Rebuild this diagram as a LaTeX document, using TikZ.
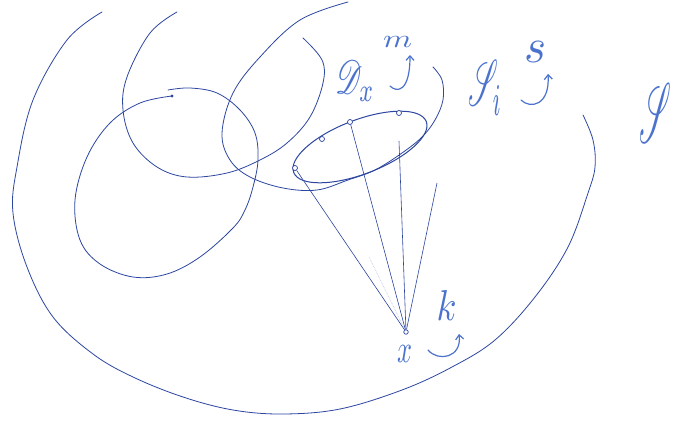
\documentclass[tikz,border=0pt]{standalone}
\usepackage{mathrsfs}
\usetikzlibrary{arrows.meta}
\definecolor{ink}{RGB}{45, 70, 160}
\definecolor{inklight}{RGB}{75, 115, 205}
\newcommand{\inkbox}[3]{\resizebox*{#1pt}{#2pt}{#3}}
\tikzset{
  pen/.style={draw=ink, line width=0.8pt, line cap=round},
  ray/.style={draw=ink, line width=0.6pt},
  hole/.style={circle, draw=ink, fill=white, line width=0.7pt, inner sep=0pt, minimum size=5pt},
  hook/.style={draw=inklight, line width=1.2pt, line cap=round, -{Straight Barb[length=4.5pt, width=8pt]}},
  handtext/.style={text=inklight, inner sep=0pt},
}

\begin{document}
\begin{tikzpicture}[x=1pt, y=-1pt]
  \fill[white] (0,0) rectangle (675,422);
  \useasboundingbox (0,0) rectangle (675,422);

  % outer region
  \draw[pen] plot[smooth, tension=0.6] coordinates {(102,12) (67,40) (33,100) (17,167) (13,213) (27,267) (53,317) (93,354) (133,377) (183,397) (233,410) (283,414) (340,409) (402,390) (452,367) (495,340) (535,297) (568,247) (588,193) (595,167) (593,140) (583,115)};

  % overlapping loops
  \draw[pen] plot[smooth, tension=0.6] coordinates {(172,96) (140,103) (110,123) (87,157) (75,200) (80,240) (100,264) (133,277) (167,274) (200,257) (233,228) (245,210) (253,187) (258,160) (255,133) (240,110) (217,93) (190,88) (168,90)};
  \fill[ink] (172,96) circle [radius=1.6];
  \draw[pen] plot[smooth, tension=0.6] coordinates {(177,12) (150,33) (127,77) (123,110) (133,143) (157,167) (187,177) (227,173) (260,160) (287,143) (310,117) (323,83) (322,60) (303,38)};
  \draw[pen] plot[smooth, tension=0.6] coordinates {(348,2) (300,20) (260,57) (233,93) (222,133) (230,160) (250,177) (283,188) (317,190) (348,180) (375,170) (402,153) (422,137) (435,120) (443,100) (442,80) (433,67)};

  % small ellipse with its points
  \draw[pen, line width=1pt, rotate around={21:(360,147)}] (360,147) ellipse [x radius=71, y radius=27];
  \node[hole] (d1) at (295,168) {};
  \node[hole] (d2) at (322,139) {};
  \node[hole] (d3) at (350,122) {};
  \node[hole] (d4) at (399,113) {};

  % the point x and its rays
  \node[hole, minimum size=4.5pt] (px) at (406,332) {};
  \coordinate (c3) at (399,141);
  \coordinate (c4) at (437,183);
  \coordinate (c5) at (369,257);
  \draw[ray] (px) -- (d1);
  \draw[ray] (px) -- (d3);
  \draw[ray] (px) -- (c3);
  \draw[ray] (px) -- (c4);
  \draw[ray, opacity=0.35, densely dotted] (px) -- (c5);

  % labels
  \node[handtext] (lDx) at (355,81) {\inkbox{40}{40}{$\mathscr{D}_x$}};
  \node[handtext] (lm) at (397.5,42.5) {\inkbox{29}{11}{$m$}};
  \draw[hook] (390,86) .. controls (397,93) and (410,92) .. (410,55);
  \node[handtext] (lSi) at (485,87.5) {\inkbox{34}{55}{$\mathscr{S}_i$}};
  \node[handtext] (ls) at (535,52.5) {\inkbox{22}{21}{$s$}};
  \draw[hook] (521,100) .. controls (530,109) and (550,106) .. (548,74);
  \node[handtext] (lS) at (655,112.5) {\inkbox{32}{59}{$\mathscr{S}$}};
  \node[handtext] (lx) at (404.5,353.5) {\inkbox{15}{17}{$x$}};
  \node[handtext] (lk) at (446.5,305) {\inkbox{20}{30}{$k$}};
  \draw[hook] (428,350) .. controls (438,362) and (462,358) .. (459,334);
\end{tikzpicture}
\end{document}
